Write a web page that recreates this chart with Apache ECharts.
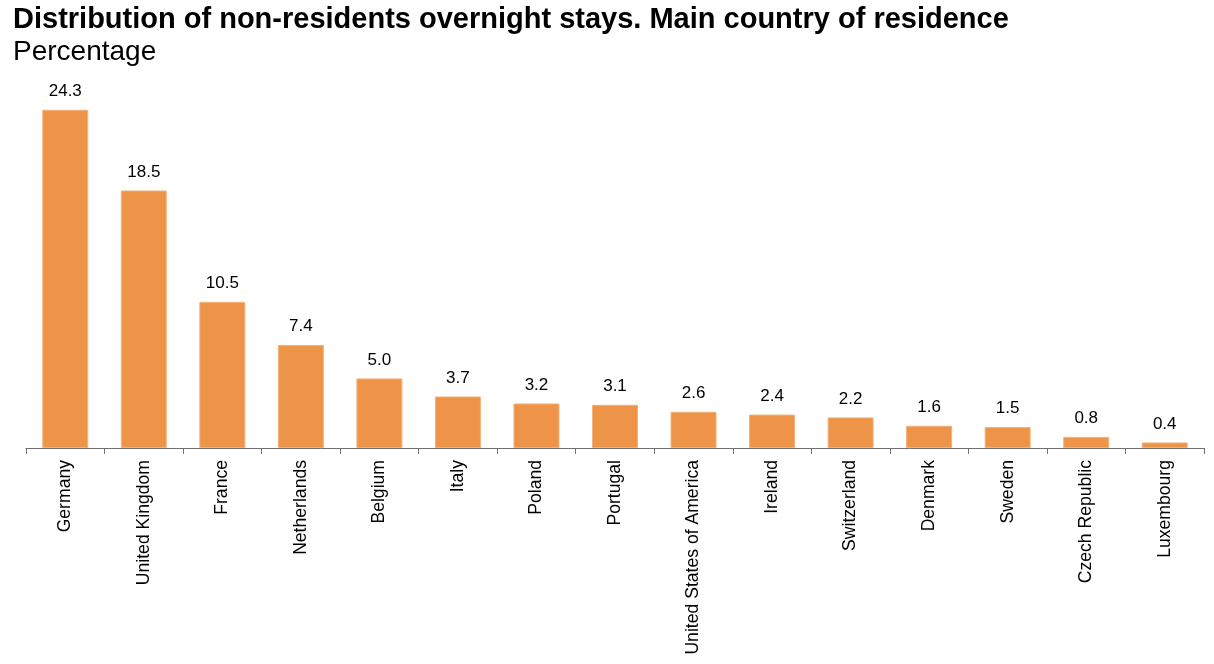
<!DOCTYPE html>
<html>
<head>
<meta charset="utf-8">
<title>Non-residents overnight stays</title>
<script src="https://cdn.jsdelivr.net/npm/echarts@6/dist/echarts.min.js"></script>
<style>
  html, body { margin: 0; padding: 0; background: #fff; }
  #chart { width: 1214px; height: 664px; }
</style>
</head>
<body>
<div id="chart"></div>
<script>
// countries (x axis) and their share of overnight stays, in %
var countries = ['Germany', 'United Kingdom', 'France', 'Netherlands', 'Belgium', 'Italy', 'Poland',
  'Portugal', 'United States of America', 'Ireland', 'Switzerland', 'Denmark', 'Sweden',
  'Czech Republic', 'Luxembourg'];
var shares = [24.3, 18.5, 10.5, 7.4, 5.0, 3.7, 3.2, 3.1, 2.6, 2.4, 2.2, 1.6, 1.5, 0.8, 0.4];

var chart = echarts.init(document.getElementById('chart'));

var option = {
  animation: false,
  textStyle: { fontFamily: 'Liberation Sans, Arial, sans-serif' },
  title: [{
    text: 'Distribution of non-residents overnight stays. Main country of residence',
    left: 8,
    top: 0,
    textStyle: { fontSize: 29, fontWeight: 'bold', color: '#000' }
  }, {
    text: 'Percentage',
    left: 8,
    top: 33,
    textStyle: { fontSize: 28, fontWeight: 'normal', color: '#000' }
  }],
  grid: { left: 26, right: 10, top: 100, bottom: 216 },
  xAxis: {
    type: 'category',
    data: countries,
    axisLine: { lineStyle: { color: '#707070', width: 1 } },
    axisTick: { show: true, length: 6, lineStyle: { color: '#707070' } },
    axisLabel: {
      rotate: 90,
      interval: 0,
      margin: 12,
      fontSize: 17.6,
      color: '#000'
    }
  },
  yAxis: {
    type: 'value',
    min: 0,
    max: 25,
    show: false,
    splitLine: { show: false }
  },
  series: [{
    type: 'bar',
    data: shares,
    barWidth: 46,
    itemStyle: { color: '#EE9449', borderColor: '#F4B27A', borderWidth: 1 },
    label: {
      show: true,
      position: 'top',
      distance: 10,
      fontSize: 17,
      color: '#000',
      formatter: function (p) { return p.value.toFixed(1); }
    }
  }]
};

chart.setOption(option);
</script>
</body>
</html>
